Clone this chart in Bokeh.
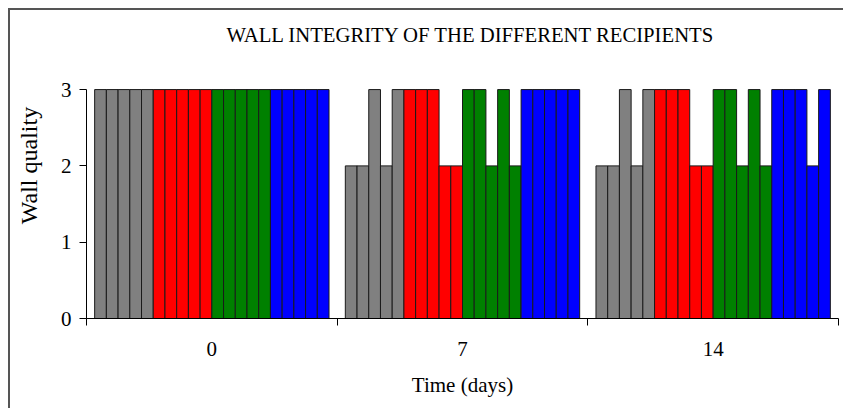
from bokeh.plotting import figure
from bokeh.models import ColumnDataSource, FixedTicker, Range1d, Label
from bokeh.embed import file_html
from bokeh.resources import INLINE

# ---- data ----
days = ["0", "7", "14"]
recipient_colors = ["#808080", "#FF0000", "#008000", "#0000FF"]
gray_values = [[3, 3, 3, 3, 3], [2, 2, 3, 2, 3], [2, 2, 3, 2, 3]]
red_values = [[3, 3, 3, 3, 3], [3, 3, 3, 2, 2], [3, 3, 3, 2, 2]]
green_values = [[3, 3, 3, 3, 3], [3, 3, 2, 3, 2], [3, 3, 2, 3, 2]]
blue_values = [[3, 3, 3, 3, 3], [3, 3, 3, 3, 3], [3, 3, 3, 2, 3]]
y_ticks = [0, 1, 2, 3]
title_text = "WALL INTEGRITY OF THE DIFFERENT RECIPIENTS"

series = [gray_values, red_values, green_values, blue_values]
n_rep = 5
n_bars = len(series) * n_rep
group_span = 0.935
bar_w = group_span / n_bars
left_pad = (1 - group_span) / 2

xs, tops, colors = [], [], []
for g in range(len(days)):
    for s, vals in enumerate(series):
        for r, v in enumerate(vals[g]):
            k = s * n_rep + r
            xs.append(g + left_pad + (k + 0.5) * bar_w)
            tops.append(v)
            colors.append(recipient_colors[s])

src = ColumnDataSource(dict(x=xs, top=tops, color=colors))

FONT = "Liberation Serif"

# frame extends above the value range to leave room for the chart title
p = figure(width=835, height=400, output_backend="svg", toolbar_location=None,
           x_range=Range1d(0, len(days)), y_range=Range1d(0, 4.01),
           min_border_left=76, min_border_right=7, min_border_top=2, min_border_bottom=92)
p.styles = {"border-left": "2px solid #555555", "border-top": "2px solid #555555",
            "margin-left": "8px", "margin-top": "8px"}

p.vbar(x="x", top="top", width=bar_w, bottom=0, source=src,
       fill_color="color", line_color="#1a1a1a", line_width=1)

title = Label(x=140, y=284, x_units="screen", y_units="screen", text=title_text,
              text_font=FONT, text_font_size="20.7px", text_color="black",
              text_baseline="alphabetic", text_align="left")
p.add_layout(title)

p.outline_line_color = None
p.xgrid.grid_line_color = None
p.ygrid.grid_line_color = None
p.background_fill_color = "white"
p.border_fill_color = "white"

# x axis
xa = p.xaxis[0]
xa.ticker = FixedTicker(ticks=[i + 0.5 for i in range(len(days))],
                        minor_ticks=list(range(len(days) + 1)))
xa.major_label_overrides = {i + 0.5: d for i, d in enumerate(days)}
xa.major_tick_out = 0
xa.major_tick_in = 0
xa.minor_tick_out = 7
xa.minor_tick_in = 0
xa.minor_tick_line_color = "black"
xa.axis_line_color = "black"
xa.major_label_text_font = FONT
xa.major_label_text_font_size = "21px"
xa.major_label_text_color = "black"
xa.major_label_standoff = 16
xa.axis_label = "Time (days)"
xa.axis_label_text_font = FONT
xa.axis_label_text_font_size = "21px"
xa.axis_label_text_font_style = "normal"
xa.axis_label_text_color = "black"
xa.axis_label_standoff = 14

# y axis
ya = p.yaxis[0]
ya.ticker = FixedTicker(ticks=y_ticks)
ya.bounds = (0, 3)
ya.major_tick_out = 7
ya.major_tick_in = 0
ya.minor_tick_out = 0
ya.minor_tick_in = 0
ya.axis_line_color = "black"
ya.major_tick_line_color = "black"
ya.major_label_text_font = FONT
ya.major_label_text_font_size = "21px"
ya.major_label_text_color = "black"
ya.major_label_standoff = 8
ya.axis_label = "Wall quality"
ya.axis_label_text_font = FONT
ya.axis_label_text_font_size = "24px"
ya.axis_label_text_font_style = "normal"
ya.axis_label_text_color = "black"
ya.axis_label_standoff = 16

open("out.html", "w").write(file_html(p, INLINE))
